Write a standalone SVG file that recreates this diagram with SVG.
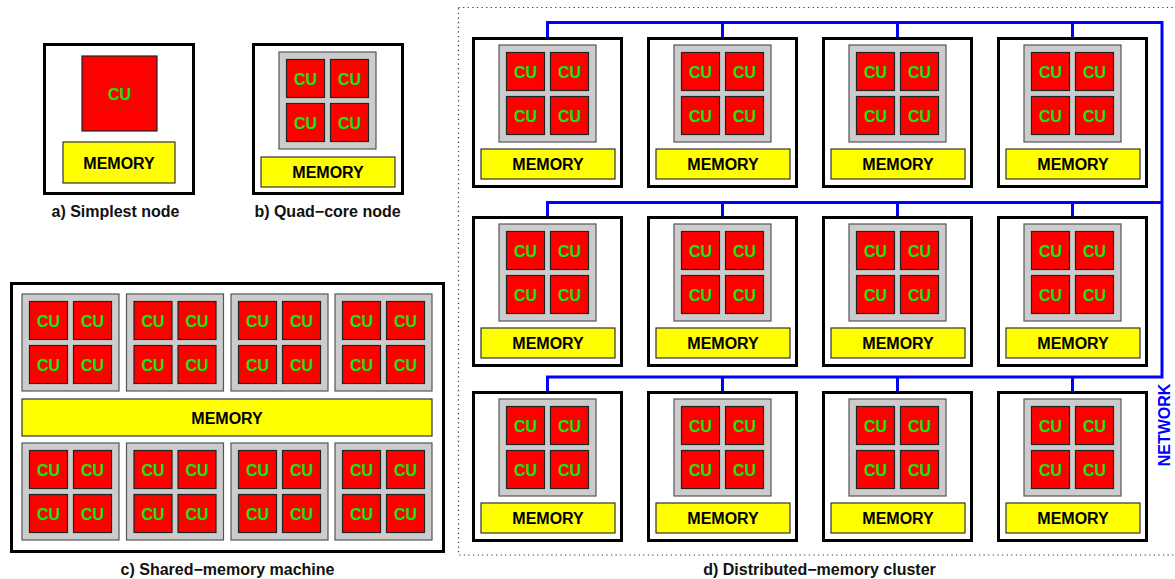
<svg xmlns="http://www.w3.org/2000/svg" width="1175" height="579" viewBox="0 0 1175 579">
<style>
.bg{fill:#fff}
.box{fill:#fff;stroke:#000;stroke-width:3}
.core{fill:#cccccc;stroke:#555;stroke-width:1.2}
.cu{fill:#ff0000;stroke:#222;stroke-width:1.2}
.mem{fill:#ffff00;stroke:#333;stroke-width:1.2}
.t{font-family:"Liberation Sans",Arial,Helvetica,sans-serif;font-weight:bold;font-size:16px;text-anchor:middle}
.cut{fill:#14e614}
.blk{fill:#000}
.lbl{fill:#111}
.net{fill:none;stroke:#0000ff;stroke-width:3;stroke-linejoin:miter;stroke-linecap:butt}
.frame{fill:none;stroke:#333;stroke-width:1.2;stroke-dasharray:1.2 3.4}
</style>
<rect class="bg" x="0" y="0" width="1175" height="579"/>

<!-- a) Simplest node -->
<g id="node-a">
<rect class="box" x="44.5" y="44.5" width="149" height="149"/>
<rect class="cu" x="82" y="56" width="75" height="75"/>
<text class="t cut" x="119.5" y="99.5">CU</text>
<rect class="mem" x="63" y="142" width="112" height="41"/>
<text class="t blk" x="119" y="168.5">MEMORY</text>
</g>
<text class="t lbl" x="115.5" y="216.5">a) Simplest node</text>

<!-- b) Quad-core node -->
<g id="node-b">
<rect class="box" x="253.5" y="44.5" width="149" height="149"/>
<g transform="translate(279,52)">
<rect class="core" width="97" height="97"/>
<rect class="cu" x="7.5" y="7.5" width="38" height="38"/><rect class="cu" x="51.5" y="7.5" width="38" height="38"/>
<rect class="cu" x="7.5" y="51.5" width="38" height="38"/><rect class="cu" x="51.5" y="51.5" width="38" height="38"/>
<text class="t cut" x="26.5" y="32.5">CU</text><text class="t cut" x="70.5" y="32.5">CU</text>
<text class="t cut" x="26.5" y="76.5">CU</text><text class="t cut" x="70.5" y="76.5">CU</text>
</g>
<rect class="mem" x="261" y="157" width="134" height="30"/>
<text class="t blk" x="328" y="178">MEMORY</text>
</g>
<text class="t lbl" x="327.5" y="216.5">b) Quad−core node</text>

<!-- c) Shared-memory machine -->
<g id="node-c">
<rect class="box" x="11.5" y="283.5" width="432" height="268"/>
<g transform="translate(22,294)"><rect class="core" width="97" height="97"/><rect class="cu" x="7.5" y="7.5" width="38" height="38"/><rect class="cu" x="51.5" y="7.5" width="38" height="38"/><rect class="cu" x="7.5" y="51.5" width="38" height="38"/><rect class="cu" x="51.5" y="51.5" width="38" height="38"/><text class="t cut" x="26.5" y="32.5">CU</text><text class="t cut" x="70.5" y="32.5">CU</text><text class="t cut" x="26.5" y="76.5">CU</text><text class="t cut" x="70.5" y="76.5">CU</text></g>
<g transform="translate(126.5,294)"><rect class="core" width="97" height="97"/><rect class="cu" x="7.5" y="7.5" width="38" height="38"/><rect class="cu" x="51.5" y="7.5" width="38" height="38"/><rect class="cu" x="7.5" y="51.5" width="38" height="38"/><rect class="cu" x="51.5" y="51.5" width="38" height="38"/><text class="t cut" x="26.5" y="32.5">CU</text><text class="t cut" x="70.5" y="32.5">CU</text><text class="t cut" x="26.5" y="76.5">CU</text><text class="t cut" x="70.5" y="76.5">CU</text></g>
<g transform="translate(231,294)"><rect class="core" width="97" height="97"/><rect class="cu" x="7.5" y="7.5" width="38" height="38"/><rect class="cu" x="51.5" y="7.5" width="38" height="38"/><rect class="cu" x="7.5" y="51.5" width="38" height="38"/><rect class="cu" x="51.5" y="51.5" width="38" height="38"/><text class="t cut" x="26.5" y="32.5">CU</text><text class="t cut" x="70.5" y="32.5">CU</text><text class="t cut" x="26.5" y="76.5">CU</text><text class="t cut" x="70.5" y="76.5">CU</text></g>
<g transform="translate(335,294)"><rect class="core" width="97" height="97"/><rect class="cu" x="7.5" y="7.5" width="38" height="38"/><rect class="cu" x="51.5" y="7.5" width="38" height="38"/><rect class="cu" x="7.5" y="51.5" width="38" height="38"/><rect class="cu" x="51.5" y="51.5" width="38" height="38"/><text class="t cut" x="26.5" y="32.5">CU</text><text class="t cut" x="70.5" y="32.5">CU</text><text class="t cut" x="26.5" y="76.5">CU</text><text class="t cut" x="70.5" y="76.5">CU</text></g>
<rect class="mem" x="22" y="399" width="410" height="37"/>
<text class="t blk" x="227" y="423.5">MEMORY</text>
<g transform="translate(22,443)"><rect class="core" width="97" height="97"/><rect class="cu" x="7.5" y="7.5" width="38" height="38"/><rect class="cu" x="51.5" y="7.5" width="38" height="38"/><rect class="cu" x="7.5" y="51.5" width="38" height="38"/><rect class="cu" x="51.5" y="51.5" width="38" height="38"/><text class="t cut" x="26.5" y="32.5">CU</text><text class="t cut" x="70.5" y="32.5">CU</text><text class="t cut" x="26.5" y="76.5">CU</text><text class="t cut" x="70.5" y="76.5">CU</text></g>
<g transform="translate(126.5,443)"><rect class="core" width="97" height="97"/><rect class="cu" x="7.5" y="7.5" width="38" height="38"/><rect class="cu" x="51.5" y="7.5" width="38" height="38"/><rect class="cu" x="7.5" y="51.5" width="38" height="38"/><rect class="cu" x="51.5" y="51.5" width="38" height="38"/><text class="t cut" x="26.5" y="32.5">CU</text><text class="t cut" x="70.5" y="32.5">CU</text><text class="t cut" x="26.5" y="76.5">CU</text><text class="t cut" x="70.5" y="76.5">CU</text></g>
<g transform="translate(231,443)"><rect class="core" width="97" height="97"/><rect class="cu" x="7.5" y="7.5" width="38" height="38"/><rect class="cu" x="51.5" y="7.5" width="38" height="38"/><rect class="cu" x="7.5" y="51.5" width="38" height="38"/><rect class="cu" x="51.5" y="51.5" width="38" height="38"/><text class="t cut" x="26.5" y="32.5">CU</text><text class="t cut" x="70.5" y="32.5">CU</text><text class="t cut" x="26.5" y="76.5">CU</text><text class="t cut" x="70.5" y="76.5">CU</text></g>
<g transform="translate(335,443)"><rect class="core" width="97" height="97"/><rect class="cu" x="7.5" y="7.5" width="38" height="38"/><rect class="cu" x="51.5" y="7.5" width="38" height="38"/><rect class="cu" x="7.5" y="51.5" width="38" height="38"/><rect class="cu" x="51.5" y="51.5" width="38" height="38"/><text class="t cut" x="26.5" y="32.5">CU</text><text class="t cut" x="70.5" y="32.5">CU</text><text class="t cut" x="26.5" y="76.5">CU</text><text class="t cut" x="70.5" y="76.5">CU</text></g>
</g>
<text class="t lbl" x="227.5" y="574.5">c) Shared−memory machine</text>

<!-- d) Distributed-memory cluster -->
<rect class="frame" x="458.5" y="7.5" width="730" height="547.5"/>

<g id="network">
<path class="net" d="M547.5 37V22.5H1162V377H547.5V391"/>
<path class="net" d="M547.5 216V202.5H1162"/>
<path class="net" d="M722.5 22.5V37M897.5 22.5V37M1072.5 22.5V37M722.5 202.5V216M897.5 202.5V216M1072.5 202.5V216M722.5 377V391M897.5 377V391M1072.5 377V391"/>
<text class="t" fill="#0000ff" transform="translate(1170,425) rotate(-90)" x="0" y="0">NETWORK</text>
</g>

<g id="d-r1c1" transform="translate(472,37)"><rect class="box" x="1.5" y="1.5" width="148" height="148"/><g transform="translate(27,8)"><rect class="core" width="97" height="97"/><rect class="cu" x="7.5" y="7.5" width="38" height="38"/><rect class="cu" x="51.5" y="7.5" width="38" height="38"/><rect class="cu" x="7.5" y="51.5" width="38" height="38"/><rect class="cu" x="51.5" y="51.5" width="38" height="38"/><text class="t cut" x="26.5" y="32.5">CU</text><text class="t cut" x="70.5" y="32.5">CU</text><text class="t cut" x="26.5" y="76.5">CU</text><text class="t cut" x="70.5" y="76.5">CU</text></g><rect class="mem" x="9" y="112" width="134" height="30"/><text class="t blk" x="76" y="133">MEMORY</text></g>
<g id="d-r1c2" transform="translate(647,37)"><rect class="box" x="1.5" y="1.5" width="148" height="148"/><g transform="translate(27,8)"><rect class="core" width="97" height="97"/><rect class="cu" x="7.5" y="7.5" width="38" height="38"/><rect class="cu" x="51.5" y="7.5" width="38" height="38"/><rect class="cu" x="7.5" y="51.5" width="38" height="38"/><rect class="cu" x="51.5" y="51.5" width="38" height="38"/><text class="t cut" x="26.5" y="32.5">CU</text><text class="t cut" x="70.5" y="32.5">CU</text><text class="t cut" x="26.5" y="76.5">CU</text><text class="t cut" x="70.5" y="76.5">CU</text></g><rect class="mem" x="9" y="112" width="134" height="30"/><text class="t blk" x="76" y="133">MEMORY</text></g>
<g id="d-r1c3" transform="translate(822,37)"><rect class="box" x="1.5" y="1.5" width="148" height="148"/><g transform="translate(27,8)"><rect class="core" width="97" height="97"/><rect class="cu" x="7.5" y="7.5" width="38" height="38"/><rect class="cu" x="51.5" y="7.5" width="38" height="38"/><rect class="cu" x="7.5" y="51.5" width="38" height="38"/><rect class="cu" x="51.5" y="51.5" width="38" height="38"/><text class="t cut" x="26.5" y="32.5">CU</text><text class="t cut" x="70.5" y="32.5">CU</text><text class="t cut" x="26.5" y="76.5">CU</text><text class="t cut" x="70.5" y="76.5">CU</text></g><rect class="mem" x="9" y="112" width="134" height="30"/><text class="t blk" x="76" y="133">MEMORY</text></g>
<g id="d-r1c4" transform="translate(997,37)"><rect class="box" x="1.5" y="1.5" width="148" height="148"/><g transform="translate(27,8)"><rect class="core" width="97" height="97"/><rect class="cu" x="7.5" y="7.5" width="38" height="38"/><rect class="cu" x="51.5" y="7.5" width="38" height="38"/><rect class="cu" x="7.5" y="51.5" width="38" height="38"/><rect class="cu" x="51.5" y="51.5" width="38" height="38"/><text class="t cut" x="26.5" y="32.5">CU</text><text class="t cut" x="70.5" y="32.5">CU</text><text class="t cut" x="26.5" y="76.5">CU</text><text class="t cut" x="70.5" y="76.5">CU</text></g><rect class="mem" x="9" y="112" width="134" height="30"/><text class="t blk" x="76" y="133">MEMORY</text></g>

<g id="d-r2c1" transform="translate(472,216)"><rect class="box" x="1.5" y="1.5" width="148" height="148"/><g transform="translate(27,8)"><rect class="core" width="97" height="97"/><rect class="cu" x="7.5" y="7.5" width="38" height="38"/><rect class="cu" x="51.5" y="7.5" width="38" height="38"/><rect class="cu" x="7.5" y="51.5" width="38" height="38"/><rect class="cu" x="51.5" y="51.5" width="38" height="38"/><text class="t cut" x="26.5" y="32.5">CU</text><text class="t cut" x="70.5" y="32.5">CU</text><text class="t cut" x="26.5" y="76.5">CU</text><text class="t cut" x="70.5" y="76.5">CU</text></g><rect class="mem" x="9" y="112" width="134" height="30"/><text class="t blk" x="76" y="133">MEMORY</text></g>
<g id="d-r2c2" transform="translate(647,216)"><rect class="box" x="1.5" y="1.5" width="148" height="148"/><g transform="translate(27,8)"><rect class="core" width="97" height="97"/><rect class="cu" x="7.5" y="7.5" width="38" height="38"/><rect class="cu" x="51.5" y="7.5" width="38" height="38"/><rect class="cu" x="7.5" y="51.5" width="38" height="38"/><rect class="cu" x="51.5" y="51.5" width="38" height="38"/><text class="t cut" x="26.5" y="32.5">CU</text><text class="t cut" x="70.5" y="32.5">CU</text><text class="t cut" x="26.5" y="76.5">CU</text><text class="t cut" x="70.5" y="76.5">CU</text></g><rect class="mem" x="9" y="112" width="134" height="30"/><text class="t blk" x="76" y="133">MEMORY</text></g>
<g id="d-r2c3" transform="translate(822,216)"><rect class="box" x="1.5" y="1.5" width="148" height="148"/><g transform="translate(27,8)"><rect class="core" width="97" height="97"/><rect class="cu" x="7.5" y="7.5" width="38" height="38"/><rect class="cu" x="51.5" y="7.5" width="38" height="38"/><rect class="cu" x="7.5" y="51.5" width="38" height="38"/><rect class="cu" x="51.5" y="51.5" width="38" height="38"/><text class="t cut" x="26.5" y="32.5">CU</text><text class="t cut" x="70.5" y="32.5">CU</text><text class="t cut" x="26.5" y="76.5">CU</text><text class="t cut" x="70.5" y="76.5">CU</text></g><rect class="mem" x="9" y="112" width="134" height="30"/><text class="t blk" x="76" y="133">MEMORY</text></g>
<g id="d-r2c4" transform="translate(997,216)"><rect class="box" x="1.5" y="1.5" width="148" height="148"/><g transform="translate(27,8)"><rect class="core" width="97" height="97"/><rect class="cu" x="7.5" y="7.5" width="38" height="38"/><rect class="cu" x="51.5" y="7.5" width="38" height="38"/><rect class="cu" x="7.5" y="51.5" width="38" height="38"/><rect class="cu" x="51.5" y="51.5" width="38" height="38"/><text class="t cut" x="26.5" y="32.5">CU</text><text class="t cut" x="70.5" y="32.5">CU</text><text class="t cut" x="26.5" y="76.5">CU</text><text class="t cut" x="70.5" y="76.5">CU</text></g><rect class="mem" x="9" y="112" width="134" height="30"/><text class="t blk" x="76" y="133">MEMORY</text></g>

<g id="d-r3c1" transform="translate(472,391)"><rect class="box" x="1.5" y="1.5" width="148" height="148"/><g transform="translate(27,8)"><rect class="core" width="97" height="97"/><rect class="cu" x="7.5" y="7.5" width="38" height="38"/><rect class="cu" x="51.5" y="7.5" width="38" height="38"/><rect class="cu" x="7.5" y="51.5" width="38" height="38"/><rect class="cu" x="51.5" y="51.5" width="38" height="38"/><text class="t cut" x="26.5" y="32.5">CU</text><text class="t cut" x="70.5" y="32.5">CU</text><text class="t cut" x="26.5" y="76.5">CU</text><text class="t cut" x="70.5" y="76.5">CU</text></g><rect class="mem" x="9" y="112" width="134" height="30"/><text class="t blk" x="76" y="133">MEMORY</text></g>
<g id="d-r3c2" transform="translate(647,391)"><rect class="box" x="1.5" y="1.5" width="148" height="148"/><g transform="translate(27,8)"><rect class="core" width="97" height="97"/><rect class="cu" x="7.5" y="7.5" width="38" height="38"/><rect class="cu" x="51.5" y="7.5" width="38" height="38"/><rect class="cu" x="7.5" y="51.5" width="38" height="38"/><rect class="cu" x="51.5" y="51.5" width="38" height="38"/><text class="t cut" x="26.5" y="32.5">CU</text><text class="t cut" x="70.5" y="32.5">CU</text><text class="t cut" x="26.5" y="76.5">CU</text><text class="t cut" x="70.5" y="76.5">CU</text></g><rect class="mem" x="9" y="112" width="134" height="30"/><text class="t blk" x="76" y="133">MEMORY</text></g>
<g id="d-r3c3" transform="translate(822,391)"><rect class="box" x="1.5" y="1.5" width="148" height="148"/><g transform="translate(27,8)"><rect class="core" width="97" height="97"/><rect class="cu" x="7.5" y="7.5" width="38" height="38"/><rect class="cu" x="51.5" y="7.5" width="38" height="38"/><rect class="cu" x="7.5" y="51.5" width="38" height="38"/><rect class="cu" x="51.5" y="51.5" width="38" height="38"/><text class="t cut" x="26.5" y="32.5">CU</text><text class="t cut" x="70.5" y="32.5">CU</text><text class="t cut" x="26.5" y="76.5">CU</text><text class="t cut" x="70.5" y="76.5">CU</text></g><rect class="mem" x="9" y="112" width="134" height="30"/><text class="t blk" x="76" y="133">MEMORY</text></g>
<g id="d-r3c4" transform="translate(997,391)"><rect class="box" x="1.5" y="1.5" width="148" height="148"/><g transform="translate(27,8)"><rect class="core" width="97" height="97"/><rect class="cu" x="7.5" y="7.5" width="38" height="38"/><rect class="cu" x="51.5" y="7.5" width="38" height="38"/><rect class="cu" x="7.5" y="51.5" width="38" height="38"/><rect class="cu" x="51.5" y="51.5" width="38" height="38"/><text class="t cut" x="26.5" y="32.5">CU</text><text class="t cut" x="70.5" y="32.5">CU</text><text class="t cut" x="26.5" y="76.5">CU</text><text class="t cut" x="70.5" y="76.5">CU</text></g><rect class="mem" x="9" y="112" width="134" height="30"/><text class="t blk" x="76" y="133">MEMORY</text></g>

<text class="t lbl" x="819.5" y="574.5">d) Distributed−memory cluster</text>
</svg>
